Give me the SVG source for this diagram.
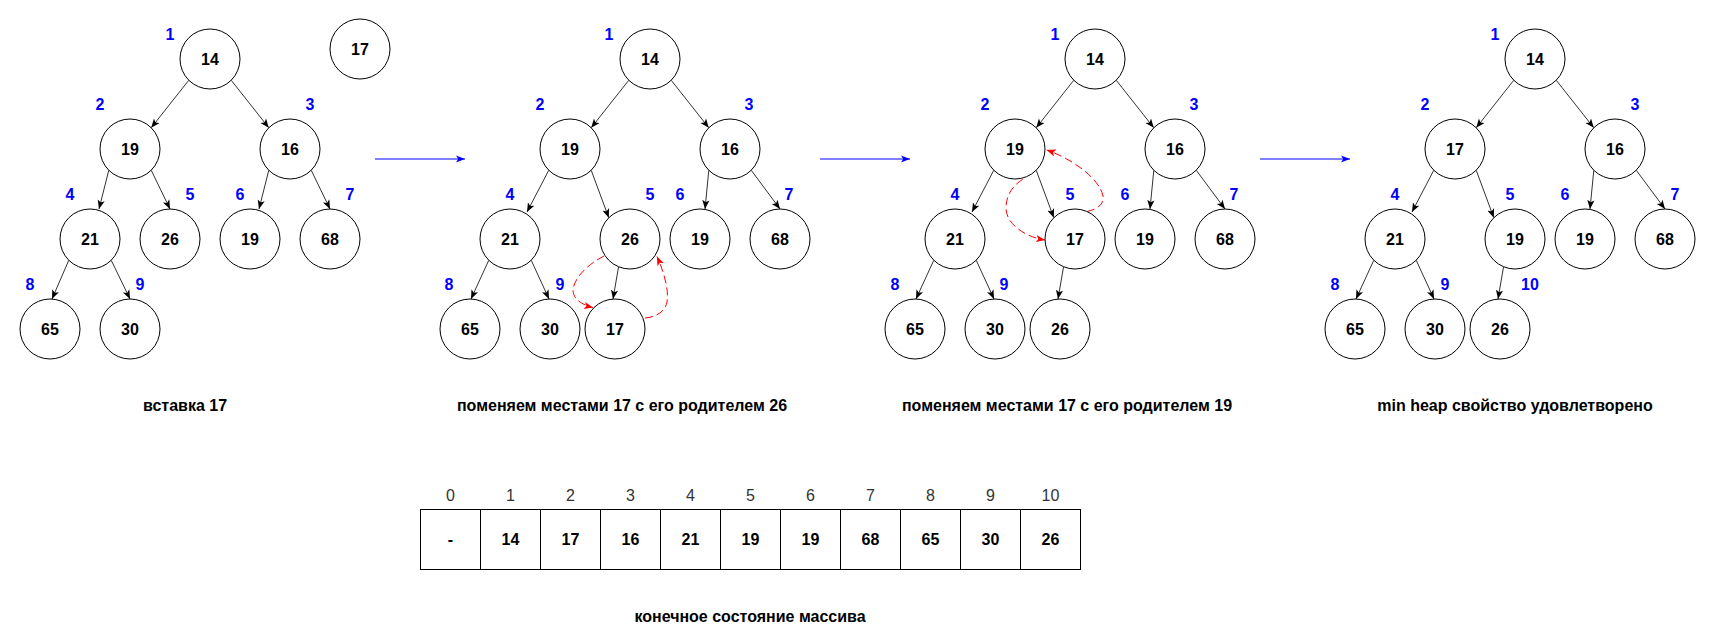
<svg xmlns="http://www.w3.org/2000/svg" width="1720" height="640" viewBox="0 0 1720 640">
<style>
.n circle{fill:#fff;stroke:#000;stroke-width:1}
.n text,.v{font-family:"Liberation Sans",Arial,sans-serif;font-size:16px;font-weight:bold;fill:#000;text-anchor:middle}
.ix{font-family:"Liberation Sans",Arial,sans-serif;font-size:16px;font-weight:bold;fill:#0000FF;text-anchor:middle}
.cap{font-family:"Liberation Sans",Arial,sans-serif;font-size:16px;font-weight:bold;fill:#000;text-anchor:middle}
.ai{font-family:"Liberation Sans",Arial,sans-serif;font-size:16px;fill:#333;text-anchor:middle}
.e line{stroke:#333;stroke-width:1;marker-end:url(#ah)}
.b{stroke:#0000FF;stroke-width:1;marker-end:url(#ab)}
.r{fill:none;stroke:#FF0000;stroke-width:1;stroke-dasharray:8 4;marker-end:url(#ar)}
.cell{fill:#fff;stroke:#000;stroke-width:1}
</style>
<defs>
<marker id="ah" markerUnits="userSpaceOnUse" markerWidth="9" markerHeight="9" viewBox="0 0 10 10" refX="10" refY="5" orient="auto"><path d="M0,1 L10,5 L0,9 L2.5,5 Z" fill="#000"/></marker>
<marker id="ab" markerUnits="userSpaceOnUse" markerWidth="9" markerHeight="9" viewBox="0 0 10 10" refX="10" refY="5" orient="auto"><path d="M0,1 L10,5 L0,9 L2.5,5 Z" fill="#0000FF"/></marker>
<marker id="ar" markerUnits="userSpaceOnUse" markerWidth="9" markerHeight="9" viewBox="0 0 10 10" refX="10" refY="5" orient="auto"><path d="M0,1 L10,5 L0,9 L2.5,5 Z" fill="#FF0000"/></marker>
</defs>
<rect width="1720" height="640" fill="#fff"/>

<g id="connectors">
<g class="e">
<line x1="188.8" y1="80.2" x2="151.2" y2="127.8"/>
<line x1="231.2" y1="80.2" x2="268.8" y2="127.8"/>
<line x1="108.8" y1="170.2" x2="99" y2="209"/>
<line x1="151.2" y1="170.2" x2="170" y2="209"/>
<line x1="268.8" y1="170.2" x2="259" y2="209"/>
<line x1="311.2" y1="170.2" x2="330" y2="209"/>
<line x1="68.8" y1="260.2" x2="52" y2="299"/>
<line x1="111.2" y1="260.2" x2="130" y2="299"/>

<line x1="628.8" y1="80.2" x2="591.2" y2="127.8"/>
<line x1="671.2" y1="80.2" x2="708.8" y2="127.8"/>
<line x1="548.8" y1="170.2" x2="527" y2="212"/>
<line x1="591.2" y1="170.2" x2="608.8" y2="217.8"/>
<line x1="708.8" y1="170.2" x2="705" y2="209"/>
<line x1="751.2" y1="170.2" x2="780" y2="209"/>
<line x1="488.8" y1="260.2" x2="471" y2="299"/>
<line x1="531.2" y1="260.2" x2="549" y2="299"/>
<line x1="618.5" y1="267" x2="613" y2="299"/>

<line x1="1073.8" y1="80.2" x2="1036.2" y2="127.8"/>
<line x1="1116.2" y1="80.2" x2="1153.8" y2="127.8"/>
<line x1="993.8" y1="170.2" x2="972" y2="212"/>
<line x1="1036.2" y1="170.2" x2="1053.8" y2="217.8"/>
<line x1="1153.8" y1="170.2" x2="1150" y2="209"/>
<line x1="1196.2" y1="170.2" x2="1225" y2="209"/>
<line x1="933.8" y1="260.2" x2="916" y2="299"/>
<line x1="976.2" y1="260.2" x2="994" y2="299"/>
<line x1="1063.5" y1="267" x2="1058" y2="299"/>

<line x1="1513.8" y1="80.2" x2="1476.2" y2="127.8"/>
<line x1="1556.2" y1="80.2" x2="1593.8" y2="127.8"/>
<line x1="1433.8" y1="170.2" x2="1412" y2="212"/>
<line x1="1476.2" y1="170.2" x2="1493.8" y2="217.8"/>
<line x1="1593.8" y1="170.2" x2="1590" y2="209"/>
<line x1="1636.2" y1="170.2" x2="1665" y2="209"/>
<line x1="1373.8" y1="260.2" x2="1356" y2="299"/>
<line x1="1416.2" y1="260.2" x2="1434" y2="299"/>
<line x1="1503.5" y1="267" x2="1498" y2="299"/>
</g>
<line class="b" x1="375" y1="159" x2="465" y2="159"/>
<line class="b" x1="820" y1="159" x2="910" y2="159"/>
<line class="b" x1="1260" y1="159" x2="1350" y2="159"/>
<path class="r" d="M604,256 C588,264 574,278 573,290 C573,299 582,305 593,307.5"/>
<path class="r" d="M645,318 C656,317 665,312 667,302 C669,290 664,272 657,256.5"/>
<path class="r" d="M1022.7,179.3 C1012,186 1006,196 1006,208 C1006,224 1025,237 1045,240"/>
<path class="r" d="M1086.7,211.7 C1097,209 1104,205 1103,196 C1100,180 1075,160 1046.7,150"/>
</g>

<g id="t1-n14" class="n"><circle cx="210" cy="59" r="30"/><text x="210" y="64.5">14</text></g>
<g id="t1-n17new" class="n"><circle cx="360" cy="49" r="30"/><text x="360" y="54.5">17</text></g>
<g id="t1-n19a" class="n"><circle cx="130" cy="149" r="30"/><text x="130" y="154.5">19</text></g>
<g id="t1-n16" class="n"><circle cx="290" cy="149" r="30"/><text x="290" y="154.5">16</text></g>
<g id="t1-n21" class="n"><circle cx="90" cy="239" r="30"/><text x="90" y="244.5">21</text></g>
<g id="t1-n26" class="n"><circle cx="170" cy="239" r="30"/><text x="170" y="244.5">26</text></g>
<g id="t1-n19b" class="n"><circle cx="250" cy="239" r="30"/><text x="250" y="244.5">19</text></g>
<g id="t1-n68" class="n"><circle cx="330" cy="239" r="30"/><text x="330" y="244.5">68</text></g>
<g id="t1-n65" class="n"><circle cx="50" cy="329" r="30"/><text x="50" y="334.5">65</text></g>
<g id="t1-n30" class="n"><circle cx="130" cy="329" r="30"/><text x="130" y="334.5">30</text></g>

<g id="t2-n14" class="n"><circle cx="650" cy="59" r="30"/><text x="650" y="64.5">14</text></g>
<g id="t2-n19a" class="n"><circle cx="570" cy="149" r="30"/><text x="570" y="154.5">19</text></g>
<g id="t2-n16" class="n"><circle cx="730" cy="149" r="30"/><text x="730" y="154.5">16</text></g>
<g id="t2-n21" class="n"><circle cx="510" cy="239" r="30"/><text x="510" y="244.5">21</text></g>
<g id="t2-n26" class="n"><circle cx="630" cy="239" r="30"/><text x="630" y="244.5">26</text></g>
<g id="t2-n19b" class="n"><circle cx="700" cy="239" r="30"/><text x="700" y="244.5">19</text></g>
<g id="t2-n68" class="n"><circle cx="780" cy="239" r="30"/><text x="780" y="244.5">68</text></g>
<g id="t2-n65" class="n"><circle cx="470" cy="329" r="30"/><text x="470" y="334.5">65</text></g>
<g id="t2-n30" class="n"><circle cx="550" cy="329" r="30"/><text x="550" y="334.5">30</text></g>
<g id="t2-n17" class="n"><circle cx="615" cy="329" r="30"/><text x="615" y="334.5">17</text></g>

<g id="t3-n14" class="n"><circle cx="1095" cy="59" r="30"/><text x="1095" y="64.5">14</text></g>
<g id="t3-n19a" class="n"><circle cx="1015" cy="149" r="30"/><text x="1015" y="154.5">19</text></g>
<g id="t3-n16" class="n"><circle cx="1175" cy="149" r="30"/><text x="1175" y="154.5">16</text></g>
<g id="t3-n21" class="n"><circle cx="955" cy="239" r="30"/><text x="955" y="244.5">21</text></g>
<g id="t3-n17" class="n"><circle cx="1075" cy="239" r="30"/><text x="1075" y="244.5">17</text></g>
<g id="t3-n19b" class="n"><circle cx="1145" cy="239" r="30"/><text x="1145" y="244.5">19</text></g>
<g id="t3-n68" class="n"><circle cx="1225" cy="239" r="30"/><text x="1225" y="244.5">68</text></g>
<g id="t3-n65" class="n"><circle cx="915" cy="329" r="30"/><text x="915" y="334.5">65</text></g>
<g id="t3-n30" class="n"><circle cx="995" cy="329" r="30"/><text x="995" y="334.5">30</text></g>
<g id="t3-n26" class="n"><circle cx="1060" cy="329" r="30"/><text x="1060" y="334.5">26</text></g>

<g id="t4-n14" class="n"><circle cx="1535" cy="59" r="30"/><text x="1535" y="64.5">14</text></g>
<g id="t4-n17" class="n"><circle cx="1455" cy="149" r="30"/><text x="1455" y="154.5">17</text></g>
<g id="t4-n16" class="n"><circle cx="1615" cy="149" r="30"/><text x="1615" y="154.5">16</text></g>
<g id="t4-n21" class="n"><circle cx="1395" cy="239" r="30"/><text x="1395" y="244.5">21</text></g>
<g id="t4-n19a" class="n"><circle cx="1515" cy="239" r="30"/><text x="1515" y="244.5">19</text></g>
<g id="t4-n19b" class="n"><circle cx="1585" cy="239" r="30"/><text x="1585" y="244.5">19</text></g>
<g id="t4-n68" class="n"><circle cx="1665" cy="239" r="30"/><text x="1665" y="244.5">68</text></g>
<g id="t4-n65" class="n"><circle cx="1355" cy="329" r="30"/><text x="1355" y="334.5">65</text></g>
<g id="t4-n30" class="n"><circle cx="1435" cy="329" r="30"/><text x="1435" y="334.5">30</text></g>
<g id="t4-n26" class="n"><circle cx="1500" cy="329" r="30"/><text x="1500" y="334.5">26</text></g>

<g id="index-labels">
<text class="ix" x="170" y="39.5">1</text><text class="ix" x="100" y="109.5">2</text><text class="ix" x="310" y="109.5">3</text>
<text class="ix" x="70" y="199.5">4</text><text class="ix" x="190" y="199.5">5</text><text class="ix" x="240" y="199.5">6</text><text class="ix" x="350" y="199.5">7</text>
<text class="ix" x="30" y="289.5">8</text><text class="ix" x="140" y="289.5">9</text>

<text class="ix" x="609" y="39.5">1</text><text class="ix" x="540" y="109.5">2</text><text class="ix" x="749" y="109.5">3</text>
<text class="ix" x="510" y="199.5">4</text><text class="ix" x="650" y="199.5">5</text><text class="ix" x="680" y="199.5">6</text><text class="ix" x="789" y="199.5">7</text>
<text class="ix" x="449" y="289.5">8</text><text class="ix" x="560" y="289.5">9</text>

<text class="ix" x="1055" y="39.5">1</text><text class="ix" x="985" y="109.5">2</text><text class="ix" x="1194" y="109.5">3</text>
<text class="ix" x="955" y="199.5">4</text><text class="ix" x="1070" y="199.5">5</text><text class="ix" x="1125" y="199.5">6</text><text class="ix" x="1234" y="199.5">7</text>
<text class="ix" x="895" y="289.5">8</text><text class="ix" x="1004" y="289.5">9</text>

<text class="ix" x="1495" y="39.5">1</text><text class="ix" x="1425" y="109.5">2</text><text class="ix" x="1635" y="109.5">3</text>
<text class="ix" x="1395" y="199.5">4</text><text class="ix" x="1510" y="199.5">5</text><text class="ix" x="1565" y="199.5">6</text><text class="ix" x="1675" y="199.5">7</text>
<text class="ix" x="1335" y="289.5">8</text><text class="ix" x="1445" y="289.5">9</text><text class="ix" x="1530" y="289.5">10</text>
</g>

<g id="captions">
<text class="cap" x="185" y="410.5">вставка 17</text>
<text class="cap" x="622" y="410.5">поменяем местами 17 с его родителем 26</text>
<text class="cap" x="1067" y="410.5">поменяем местами 17 с его родителем 19</text>
<text class="cap" x="1515" y="410.5">min heap свойство удовлетворено</text>
<text class="cap" x="750" y="621.5">конечное состояние массива</text>
</g>

<g id="array">
<rect class="cell" x="420.5" y="509.5" width="60" height="60"/>
<rect class="cell" x="480.5" y="509.5" width="60" height="60"/>
<rect class="cell" x="540.5" y="509.5" width="60" height="60"/>
<rect class="cell" x="600.5" y="509.5" width="60" height="60"/>
<rect class="cell" x="660.5" y="509.5" width="60" height="60"/>
<rect class="cell" x="720.5" y="509.5" width="60" height="60"/>
<rect class="cell" x="780.5" y="509.5" width="60" height="60"/>
<rect class="cell" x="840.5" y="509.5" width="60" height="60"/>
<rect class="cell" x="900.5" y="509.5" width="60" height="60"/>
<rect class="cell" x="960.5" y="509.5" width="60" height="60"/>
<rect class="cell" x="1020.5" y="509.5" width="60" height="60"/>
<text class="v" x="450.5" y="545">-</text>
<text class="v" x="510.5" y="545">14</text>
<text class="v" x="570.5" y="545">17</text>
<text class="v" x="630.5" y="545">16</text>
<text class="v" x="690.5" y="545">21</text>
<text class="v" x="750.5" y="545">19</text>
<text class="v" x="810.5" y="545">19</text>
<text class="v" x="870.5" y="545">68</text>
<text class="v" x="930.5" y="545">65</text>
<text class="v" x="990.5" y="545">30</text>
<text class="v" x="1050.5" y="545">26</text>
<text class="ai" x="450.5" y="500.5">0</text>
<text class="ai" x="510.5" y="500.5">1</text>
<text class="ai" x="570.5" y="500.5">2</text>
<text class="ai" x="630.5" y="500.5">3</text>
<text class="ai" x="690.5" y="500.5">4</text>
<text class="ai" x="750.5" y="500.5">5</text>
<text class="ai" x="810.5" y="500.5">6</text>
<text class="ai" x="870.5" y="500.5">7</text>
<text class="ai" x="930.5" y="500.5">8</text>
<text class="ai" x="990.5" y="500.5">9</text>
<text class="ai" x="1050.5" y="500.5">10</text>
</g>
</svg>
